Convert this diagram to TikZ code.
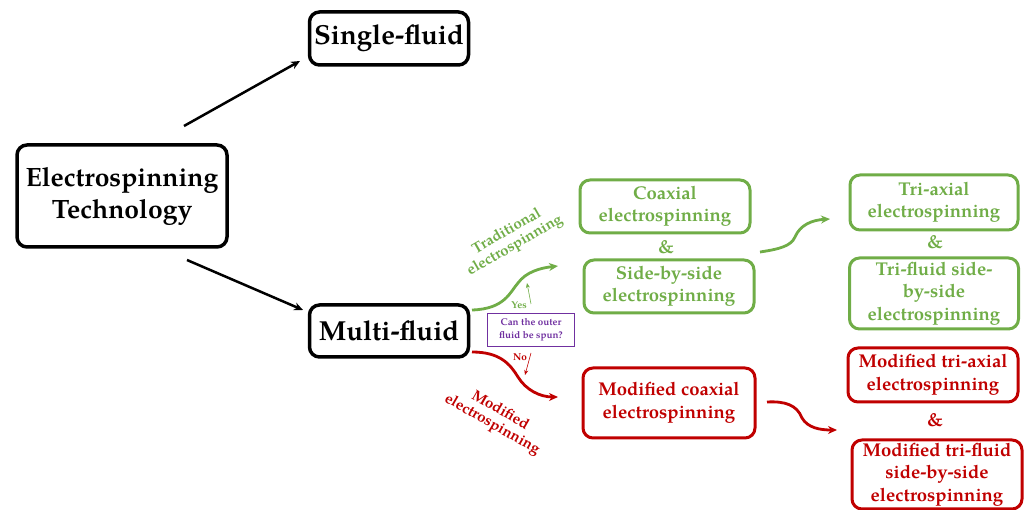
\documentclass[tikz,border=0pt]{standalone}
\usepackage{fontspec}
\setmainfont{TeX Gyre Pagella}
\usetikzlibrary{arrows.meta}
\definecolor{cgreen}{RGB}{112,173,71}
\definecolor{cred}{RGB}{192,0,0}
\definecolor{cpurple}{RGB}{112,48,160}
\begin{document}
\begin{tikzpicture}[x=1pt,y=-1pt,
  box/.style={draw, rounded corners=10pt, align=center, inner sep=0pt},
  blackbox/.style={box, line width=3.5pt},
  gbox/.style={box, draw=cgreen, text=cgreen, line width=3pt, font=\bfseries\fontsize{18.5}{22.5}\selectfont},
  rbox/.style={box, draw=cred, text=cred, line width=3pt, font=\bfseries\fontsize{18.5}{22.5}\selectfont},
  gamp/.style={text=cgreen, font=\bfseries\fontsize{19}{22}\selectfont},
  ramp/.style={text=cred, font=\bfseries\fontsize{19}{22}\selectfont},
  karrow/.style={line width=2.5pt, -{Stealth[length=9pt,width=8pt]}},
  garrow/.style={cgreen, line width=2.8pt, -{Stealth[length=9pt,width=8pt]}},
  rarrow/.style={cred, line width=2.8pt, -{Stealth[length=9pt,width=8pt]}},
  thinarrow/.style={line width=0.6pt, -{Stealth[length=5pt,width=4pt]}},
  small/.style={font=\bfseries\fontsize{10}{12}\selectfont, inner sep=1pt}
]
\useasboundingbox (0,0) rectangle (1026,510);

% main nodes
\node[blackbox, minimum width=210, minimum height=102, font=\bfseries\fontsize{26.5}{32}\selectfont] (es) at (122,196) {Electrospinning\\Technology};
\node[blackbox, minimum width=159, minimum height=53, font=\bfseries\fontsize{27.5}{32}\selectfont] (sf) at (389,38.5) {Single-fluid};
\node[blackbox, minimum width=159, minimum height=52, font=\bfseries\fontsize{27.5}{32}\selectfont] (mf) at (389,331) {Multi-fluid};

% green boxes
\node[gbox, minimum width=170, minimum height=53] (coax) at (665,206.5) {Coaxial\\electrospinning};
\node[gamp] (amp1) at (666,247) {\&};
\node[gbox, minimum width=170, minimum height=53] (sbs) at (669,286.5) {Side-by-side\\electrospinning};
\node[gbox, minimum width=168, minimum height=55] (triax) at (934,202.5) {Tri-axial\\electrospinning};
\node[gamp] (amp2) at (935,242) {\&};
\node[gbox, minimum width=169, minimum height=71] (trisbs) at (934,293.5) {Tri-fluid side-\\by-side\\electrospinning};

% red boxes
\node[rbox, minimum width=172, minimum height=70] (modcoax) at (669,403) {Modified coaxial\\electrospinning};
\node[rbox, minimum width=170, minimum height=54] (modtriax) at (933,375) {Modified tri-axial\\electrospinning};
\node[ramp] (amp3) at (935,420) {\&};
\node[rbox, minimum width=170, minimum height=69] (modtrisbs) at (937,474.5) {Modified tri-fluid\\side-by-side\\electrospinning};

% question
\node[draw=cpurple, line width=0.8pt, text=cpurple, align=center, minimum width=87, minimum height=33, font=\bfseries\fontsize{9.8}{12.5}\selectfont, inner sep=1pt] (q) at (531,329.5) {Can the outer\\fluid be spun?};

% labels
\node[text=cgreen, align=center, rotate=30, font=\bfseries\fontsize{15}{16}\selectfont] (trad) at (511,239) {Traditional\\electrospinning};
\node[text=cred, align=center, rotate=-30, font=\bfseries\fontsize{15}{16}\selectfont] (modl) at (496,418) {Modified\\electrospinning};

% black arrows
\coordinate (a1s) at (184,126);
\coordinate (a1e) at (300,61);
\coordinate (a2s) at (187,260);
\coordinate (a2e) at (303,310);
\draw[karrow] (a1s) -- (a1e);
\draw[karrow] (a2s) -- (a2e);

% green curve from multi-fluid
\coordinate (g1s) at (472,310);
\coordinate (g1m) at (518,283);
\coordinate (g1e) at (558,266);
\draw[garrow] (g1s) .. controls (505,309) and (510,292) .. (g1m) .. controls (526,272) and (540,268) .. (g1e);

% red curve from multi-fluid
\coordinate (r1s) at (472,352);
\coordinate (r1m) at (518,377);
\coordinate (r1e) at (558,397);
\draw[rarrow] (r1s) .. controls (500,352) and (510,364) .. (r1m) .. controls (526,390) and (540,397) .. (r1e);

% yes / no
\coordinate (ys) at (531,304);
\coordinate (ye) at (527,283);
\draw[thinarrow, cgreen] (ys) -- (ye);
\node[small, text=cgreen] (yes) at (519,305) {Yes};
\coordinate (ns) at (531,353);
\coordinate (ne) at (525,375);
\draw[thinarrow, cred] (ns) -- (ne);
\node[small, text=cred] (no) at (520,357) {No};

% second-level curves
\coordinate (g2s) at (760,252);
\coordinate (g2m) at (795,237);
\coordinate (g2e) at (830,219);
\draw[garrow] (g2s) .. controls (780,249) and (791,246) .. (g2m) .. controls (800,225) and (812,220) .. (g2e);

\coordinate (r2s) at (767,402);
\coordinate (r2m) at (802,418);
\coordinate (r2e) at (837,430);
\draw[rarrow] (r2s) .. controls (785,401) and (797,405) .. (r2m) .. controls (808,428) and (820,430) .. (r2e);
\end{tikzpicture}
\end{document}
